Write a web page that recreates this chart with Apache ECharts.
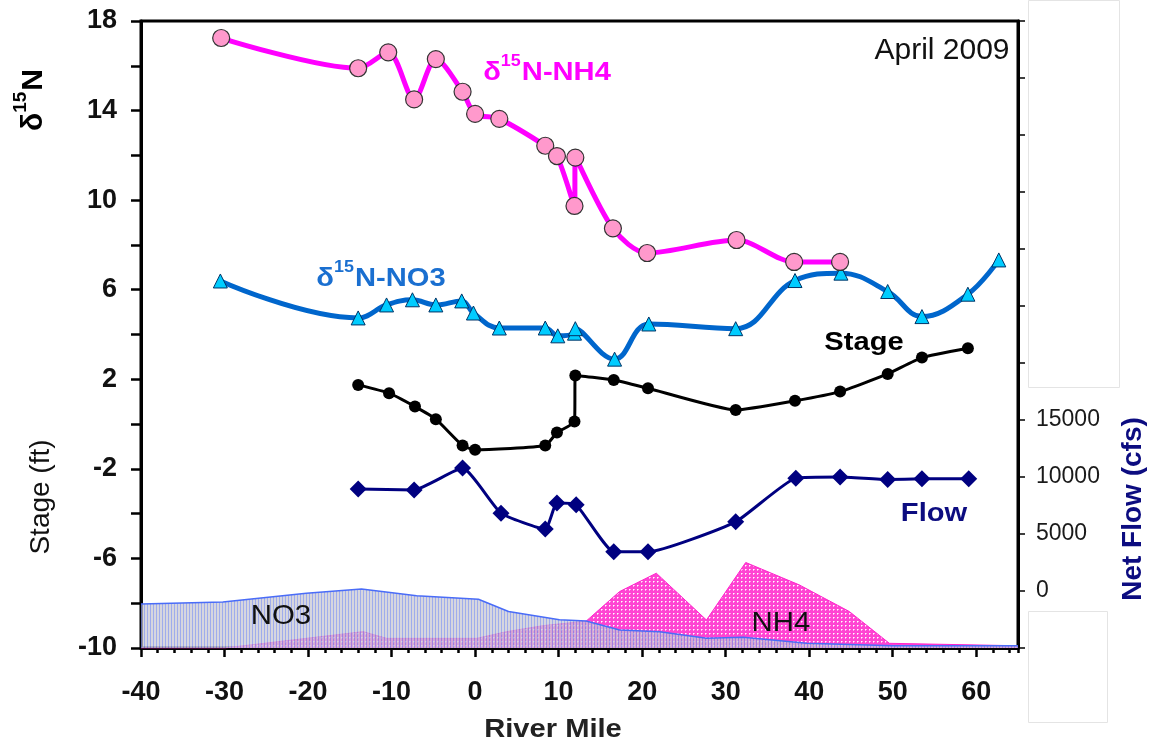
<!DOCTYPE html>
<html><head><meta charset="utf-8">
<script src="https://cdn.jsdelivr.net/npm/echarts@6/dist/echarts.min.js"></script>
<style>html,body{margin:0;padding:0;background:#fff}#c{width:1150px;height:747px}</style>
</head><body><div id="c"></div>
<script>
// ---- data ----
const xTickLabels = ['-40','-30','-20','-10','0','10','20','30','40','50','60'];
const nh4IsoMile = [-30.4,-14.0,-10.4,-7.3,-4.7,-1.5,0.0,2.9,8.4,9.8,11.9,12.0,16.5,20.6,31.3,38.2,43.7];
const nh4IsoVal  = [17.24,15.89,16.6,14.5,16.3,14.84,13.85,13.63,12.43,11.97,9.74,11.9,8.74,7.64,8.22,7.24,7.24];
const no3IsoMile = [-30.5,-14.0,-10.6,-7.5,-4.7,-1.6,-0.2,2.9,8.4,9.9,11.9,12.0,16.7,20.8,31.2,38.3,43.8,49.4,53.5,59.0,62.7];
const no3IsoVal  = [6.39,4.74,5.32,5.55,5.32,5.5,4.96,4.29,4.29,3.94,4.06,4.26,2.9,4.47,4.26,6.41,6.74,5.92,4.8,5.8,7.33];
const stageMile  = [-14.0,-10.3,-7.2,-4.7,-1.5,0.0,8.4,9.8,11.9,12.0,16.6,20.7,31.2,38.3,43.7,49.4,53.5,59.0];
const stageVal   = [1.75,1.38,0.78,0.22,-0.96,-1.15,-0.96,-0.38,0.11,2.17,1.97,1.6,0.63,1.04,1.45,2.24,2.97,3.39];
const flowMile   = [-14.0,-7.3,-1.5,3.1,8.4,9.8,12.1,16.6,20.7,31.2,38.4,43.7,49.4,53.5,59.1];
const flowVal    = [8940,8870,10780,6830,5430,7710,7560,3440,3440,6070,9900,10010,9780,9840,9840];
const no3AreaMile = [-40,-30.2,-20.2,-13.6,-7.0,0.4,4.0,10.1,13.3,17.3,22.1,27.7,32.1,39.7,50,65];
const no3AreaVal  = [-8.03,-7.95,-7.55,-7.37,-7.67,-7.82,-8.37,-8.74,-8.79,-9.2,-9.27,-9.56,-9.52,-9.79,-9.9,-9.9];
const nh4AreaMile = [-40,-30,-13.4,-10.6,0.2,3.8,8.2,13.3,17.3,21.7,27.7,32.4,38.8,44.8,49.6,65];
const nh4AreaVal  = [-10,-10,-9.27,-9.57,-9.57,-9.27,-9.0,-8.8,-7.48,-6.66,-8.75,-6.18,-7.18,-8.37,-9.79,-9.9];

const zip = (a,b) => a.map((x,i)=>[x,b[i]]);
function makeCanvas(w,h,draw){const c=document.createElement('canvas');c.width=w;c.height=h;draw(c.getContext('2d'));return c;}
const no3Pat = makeCanvas(3,4,g=>{g.fillStyle='#c8c8d4';g.fillRect(0,0,3,4);g.fillStyle='#7f90e6';g.fillRect(0,0,1,4);});
const nh4Pat = makeCanvas(4,4,g=>{g.fillStyle='#ff44d2';g.fillRect(0,0,4,4);g.fillStyle='#ffffff';g.fillRect(1,1,1,1);
  g.fillStyle='#ffaaec';g.fillRect(2,1,1,1);g.fillRect(1,2,1,1);});

const FF = '"Liberation Sans", Arial, sans-serif';
const chart = echarts.init(document.getElementById('c'), null, {renderer:'canvas'});

function supText(id, x, y, main1, sup, main2, size, color, rot, sx){
  return {type:'text', id, x, y, rotation: rot||0, scaleX: sx||1, z:100,
    style:{text:'{d|'+main1+'}{s|'+sup+'}{a|'+main2+'}', align:'center', verticalAlign:'middle',
      rich:{d:{fontSize:size,fontWeight:'bold',fontFamily:FF,fill:color,verticalAlign:'bottom',lineHeight:size*1.25},
            a:{fontSize:size,fontWeight:'bold',fontFamily:FF,fill:color,verticalAlign:'bottom',lineHeight:size*1.25},
            s:{fontSize:Math.round(size*0.62),fontWeight:'bold',fontFamily:FF,fill:color,verticalAlign:'top',padding:[0,1,0,0]}}}};
}
function txt(id,x,y,t,size,weight,color,rot,sx){
  return {type:'text', id, x, y, rotation: rot||0, scaleX: sx||1, z:100,
    style:{text:t, fontSize:size, fontWeight:weight, fontFamily:FF, fill:color, align:'center', verticalAlign:'middle'}};
}

chart.setOption({
  animation:false,
  backgroundColor:'#fff',
  grid:{left:141, right:132, top:21, bottom:99, show:true, borderColor:'#000', borderWidth:3, backgroundColor:'transparent'},
  xAxis:[
    {type:'value', min:-40, max:65, interval:10, position:'bottom',
     axisLine:{onZero:false, lineStyle:{color:'#000', width:3}},
     axisTick:{length:9, lineStyle:{color:'#000', width:2.5}},
     axisLabel:{margin:31, fontSize:27, fontWeight:'bold', fontFamily:FF, color:'#111', showMaxLabel:false,
       formatter:(v)=> xTickLabels.indexOf(String(v))>=0 ? String(v) : ''},
     splitLine:{show:false}},
    {type:'value', min:-40, max:65, interval:2, position:'bottom',
     axisLine:{show:false, onZero:false},
     axisTick:{length:5, lineStyle:{color:'#000', width:2.5}},
     axisLabel:{show:false}, splitLine:{show:false}}
  ],
  yAxis:[
    {type:'value', min:-10, max:18, interval:2, position:'left',
     axisLine:{onZero:false, lineStyle:{color:'#000', width:3}},
     axisTick:{length:10, lineStyle:{color:'#000', width:2.5}},
     axisLabel:{margin:24, fontSize:27, fontWeight:'bold', fontFamily:FF, color:'#111',
       formatter:(v)=> ((v+10)%4===0 ? String(v) : '')},
     splitLine:{show:false}},
    {type:'value', min:-5000, max:50000, interval:5000, position:'right',
     axisLine:{show:true, onZero:false, lineStyle:{color:'#000', width:3}},
     axisTick:{show:true, length:7, lineStyle:{color:'#000', width:1.5}},
     axisLabel:{margin:18, fontSize:23, fontFamily:FF, color:'#1a1a1a',
       formatter:(v)=> (v>=0 && v<=15000 ? String(v) : '')},
     splitLine:{show:false}}
  ],
  series:[
    {type:'line', name:'NH4', data:zip(nh4AreaMile,nh4AreaVal), symbol:'none', silent:true, z:1,
     lineStyle:{color:'#ff22cc', width:1},
     areaStyle:{origin:'start', color:{image:nh4Pat, repeat:'repeat'}, opacity:1}},
    {type:'line', name:'NO3', data:zip(no3AreaMile,no3AreaVal), symbol:'none', silent:true, z:2,
     lineStyle:{color:'#4a6cf7', width:1.5},
     areaStyle:{origin:'start', color:{image:no3Pat, repeat:'repeat'}, opacity:0.75}},
    {type:'line', name:'Flow', yAxisIndex:1, data:zip(flowMile,flowVal), smooth:0.15, z:3,
     symbol:'diamond', symbolSize:17, itemStyle:{color:'#000080'}, lineStyle:{color:'#000080', width:3}},
    {type:'line', name:'Stage', data:zip(stageMile,stageVal), smooth:0.15, z:4,
     symbol:'circle', symbolSize:12, itemStyle:{color:'#000'}, lineStyle:{color:'#000', width:3}},
    {type:'line', name:'d15N-NO3', data:zip(no3IsoMile,no3IsoVal), smooth:0.4, z:5,
     symbol:'triangle', symbolSize:14, itemStyle:{color:'#00ccff', borderColor:'#003366', borderWidth:1},
     lineStyle:{color:'#0066cc', width:5}},
    {type:'line', name:'d15N-NH4', data:zip(nh4IsoMile,nh4IsoVal), smooth:0.3, z:6,
     symbol:'circle', symbolSize:17, itemStyle:{color:'#ff99cc', borderColor:'#333', borderWidth:1.2},
     lineStyle:{color:'#ff00ff', width:5}}
  ],
  graphic:[
    {type:'rect', z:90, shape:{x:1028.5, y:0.5, width:91, height:387}, style:{fill:'#fff', stroke:'#e4e4e4', lineWidth:1}},
    {type:'rect', z:90, shape:{x:1028.5, y:611.5, width:79, height:111}, style:{fill:'#fff', stroke:'#e4e4e4', lineWidth:1}},
    supText('t1', 547, 70, 'δ', '15', 'N-NH4', 26, '#ff00ff', 0, 1.12),
    supText('t2', 381, 276, 'δ', '15', 'N-NO3', 26, '#1a6fd0', 0, 1.12),
    txt('t3', 864, 343, 'Stage', 26, 'bold', '#000', 0, 1.12),
    txt('t4', 934, 514, 'Flow', 26, 'bold', '#0c0c80', 0, 1.12),
    txt('t5', 942, 51, 'April 2009', 30, 'normal', '#111'),
    txt('t6', 281, 616, 'NO3', 28, 'normal', '#111', 0, 1.05),
    txt('t7', 781, 623, 'NH4', 28, 'normal', '#111', 0, 1.05),
    supText('t8', 30, 100, 'δ', '15', 'N', 30, '#000', Math.PI/2),
    txt('t9', 41, 497, 'Stage (ft)', 28, 'normal', '#111', Math.PI/2),
    txt('t10', 1133, 509, 'Net Flow (cfs)', 28, 'bold', '#0c0c80', Math.PI/2),
    txt('t11', 553, 730, 'River Mile', 26, 'bold', '#222', 0, 1.12)
  ]
});
</script></body></html>
